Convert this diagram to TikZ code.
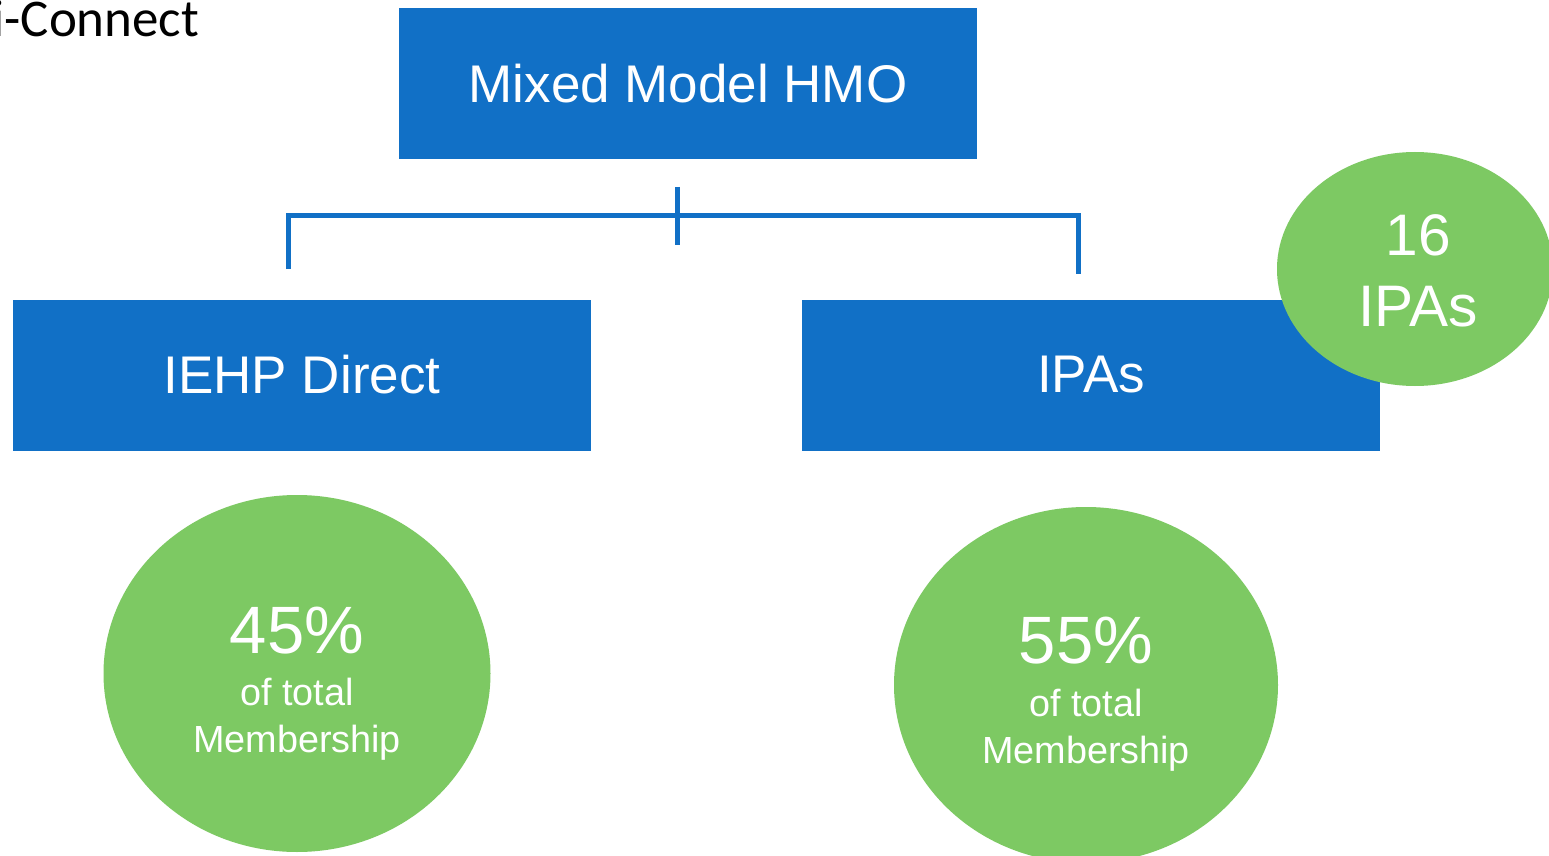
\documentclass[tikz,border=0pt]{standalone}
\usepackage{fontspec}
\setmainfont{Liberation Sans}
\newfontfamily\calfont{Carlito}
\usetikzlibrary{shapes.geometric}
\definecolor{boxblue}{HTML}{1170C6}
\definecolor{leafgreen}{HTML}{7DC963}
\tikzset{
  bluebox/.style={fill=boxblue, draw=none, inner sep=0pt, text=white,
    minimum width=289pt, minimum height=75.5pt, font=\fontsize{26.5}{31}\selectfont},
  greenoval/.style={ellipse, fill=leafgreen, draw=none, inner sep=0pt},
  bigtxt/.style={anchor=base, text=white, inner sep=0pt, font=\fontsize{33.5}{33}\selectfont},
  midtxt/.style={anchor=base, text=white, inner sep=0pt, font=\fontsize{29.3}{29}\selectfont},
  smalltxt/.style={anchor=base, text=white, inner sep=0pt, font=\fontsize{18.9}{19}\selectfont},
  bracket/.style={draw=boxblue, line width=2.5pt, line join=miter}
}
\begin{document}
\begin{tikzpicture}[x=0.5pt, y=-0.5pt]
\useasboundingbox (0,0) rectangle (1549,856);
\clip (0,0) rectangle (1549,856);
\fill[white] (0,0) rectangle (1549,856);

\node[anchor=base west, inner sep=0pt, font=\calfont\fontsize{26.5}{30}\selectfont] (title) at (-8,37) {i-Connect};

\node[bluebox] (hmo) at (688,84) {Mixed Model HMO};
\node[bluebox] (direct) at (302,375) {IEHP Direct};
\node[bluebox] (ipas) at (1091,375) {IPAs};

\coordinate (mtop) at (677,187);
\coordinate (mbot) at (677,245);
\coordinate (lend) at (288,269);
\coordinate (lcorner) at (288,216);
\coordinate (rcorner) at (1078,216);
\coordinate (rend) at (1078,274);
\draw[bracket] (lend) -- (lcorner) -- (rcorner) -- (rend);
\draw[bracket] (mtop) -- (mbot);

\node[greenoval, minimum width=138pt, minimum height=117pt] (count) at (1415,269) {};
\node[midtxt] (count1) at (1418,256) {16};
\node[midtxt] (count2) at (1418,326) {IPAs};

\node[greenoval, minimum width=193.5pt, minimum height=178.5pt] (left) at (297,673.5) {};
\node[bigtxt] (l1) at (297,653) {45\%};
\node[smalltxt] (l2) at (297,705) {of total};
\node[smalltxt] (l3) at (297,752) {Membership};

\node[greenoval, minimum width=192pt, minimum height=178pt] (right) at (1086,685) {};
\node[bigtxt] (r1) at (1086,663) {55\%};
\node[smalltxt] (r2) at (1086,716) {of total};
\node[smalltxt] (r3) at (1086,763) {Membership};
\end{tikzpicture}
\end{document}
